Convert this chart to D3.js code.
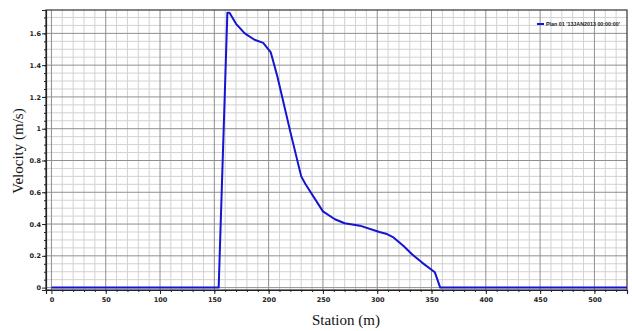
<!DOCTYPE html>
<html>
<head>
<meta charset="utf-8">
<script src="https://cdn.jsdelivr.net/npm/d3@7"></script>
<style>
  body { margin: 0; background: #fff; }
  svg { display: block; }
</style>
</head>
<body>
<script>
// Velocity profile
const station = [0, 154, 162, 164, 170, 178, 187, 195, 202, 208, 220, 230, 234, 250, 261, 270, 284, 302, 309, 315, 324, 332, 341, 353, 358, 530];
const velocity = [0, 0, 1.73, 1.73, 1.66, 1.60, 1.56, 1.54, 1.48, 1.33, 0.98, 0.70, 0.65, 0.48, 0.43, 0.405, 0.39, 0.35, 0.337, 0.316, 0.263, 0.21, 0.159, 0.097, 0, 0];
const xTicks = [0, 50, 100, 150, 200, 250, 300, 350, 400, 450, 500];
const yTicks = [0, 0.2, 0.4, 0.6, 0.8, 1, 1.2, 1.4, 1.6];
const seriesName = "Plan 01 '13JAN2013 00:00:00'";

const width = 632, height = 331;
const margin = { top: 10, right: 5, bottom: 41, left: 46 };

const svg = d3.select("body").append("svg")
  .attr("width", width)
  .attr("height", height);

const x = d3.scaleLinear().domain([-5, 530]).range([margin.left, width - margin.right]);
const y = d3.scaleLinear().domain([-0.015, 1.747]).range([height - margin.bottom, margin.top]);

const plot = svg.append("g");

// minor grid
plot.append("g")
  .selectAll("line")
  .data(d3.range(10, 530, 10).filter(v => v % 50 !== 0))
  .join("line")
  .attr("x1", d => x(d)).attr("x2", d => x(d))
  .attr("y1", y.range()[0]).attr("y2", y.range()[1])
  .attr("stroke", "#d2d2d2").attr("stroke-width", 1);

plot.append("g")
  .selectAll("line")
  .data(d3.range(1, 35).map(i => i * 0.05).filter((v, i) => (i + 1) % 4 !== 0))
  .join("line")
  .attr("x1", x.range()[0]).attr("x2", x.range()[1])
  .attr("y1", d => y(d)).attr("y2", d => y(d))
  .attr("stroke", "#d2d2d2").attr("stroke-width", 1);

// major grid
plot.append("g")
  .selectAll("line")
  .data(xTicks)
  .join("line")
  .attr("x1", d => x(d)).attr("x2", d => x(d))
  .attr("y1", y.range()[0]).attr("y2", y.range()[1])
  .attr("stroke", "#8f8f8f").attr("stroke-width", 1);

plot.append("g")
  .selectAll("line")
  .data(yTicks)
  .join("line")
  .attr("x1", x.range()[0]).attr("x2", x.range()[1])
  .attr("y1", d => y(d)).attr("y2", d => y(d))
  .attr("stroke", "#8f8f8f").attr("stroke-width", 1);

// frame
plot.append("rect")
  .attr("x", margin.left).attr("y", margin.top)
  .attr("width", width - margin.left - margin.right)
  .attr("height", height - margin.top - margin.bottom)
  .attr("fill", "none").attr("stroke", "#333").attr("stroke-width", 1.2);

// axes
const xAxis = svg.append("g")
  .attr("transform", `translate(0,${height - margin.bottom})`)
  .call(d3.axisBottom(x).tickValues(xTicks).tickSize(4).tickFormat(d3.format("d")));
svg.append("g")
  .attr("transform", `translate(0,${height - margin.bottom})`)
  .call(d3.axisBottom(x).tickValues(d3.range(10, 530, 10)).tickSize(2).tickFormat(""))
  .call(g => g.select(".domain").remove());

const yAxis = svg.append("g")
  .attr("transform", `translate(${margin.left},0)`)
  .call(d3.axisLeft(y).tickValues(yTicks).tickSize(4).tickFormat(d => d3.format("~g")(d)));
svg.append("g")
  .attr("transform", `translate(${margin.left},0)`)
  .call(d3.axisLeft(y).tickValues(d3.range(1, 35).map(i => i * 0.05)).tickSize(2).tickFormat(""))
  .call(g => g.select(".domain").remove());

svg.selectAll(".domain").attr("stroke", "#222").attr("stroke-width", 1.2);
svg.selectAll(".tick line").attr("stroke", "#222");
svg.selectAll(".tick text")
  .attr("font-family", "DejaVu Sans, sans-serif")
  .attr("font-size", 6.5)
  .attr("font-weight", "bold")
  .attr("fill", "#222");
xAxis.selectAll(".tick text").attr("dy", "0.9em").attr("y", 6);
yAxis.selectAll(".tick text").attr("x", -5);

// series
const points = station.map((s, i) => [s, velocity[i]]);
svg.append("path")
  .datum(points)
  .attr("fill", "none")
  .attr("stroke", "#1414d2")
  .attr("stroke-width", 2)
  .attr("stroke-linejoin", "round")
  .attr("d", d3.line().x(d => x(d[0])).y(d => y(d[1])));

// legend
const legend = svg.append("g").attr("transform", "translate(537,24)");
legend.append("line")
  .attr("x1", 0).attr("x2", 7).attr("y1", 0).attr("y2", 0)
  .attr("stroke", "#1414d2").attr("stroke-width", 2);
legend.append("text")
  .attr("x", 9).attr("y", 2)
  .attr("font-family", "Liberation Sans Narrow, Liberation Sans, sans-serif")
  .attr("font-size", 5.6)
  .attr("font-weight", "bold")
  .attr("fill", "#222")
  .attr("textLength", 74)
  .attr("lengthAdjust", "spacingAndGlyphs")
  .text(seriesName);

// axis titles
svg.append("text")
  .attr("x", 346).attr("y", 325)
  .attr("text-anchor", "middle")
  .attr("font-family", "Liberation Serif, Times New Roman, serif")
  .attr("font-size", 15)
  .attr("fill", "#111")
  .text("Station (m)");

svg.append("text")
  .attr("transform", "translate(23,151) rotate(-90)")
  .attr("text-anchor", "middle")
  .attr("font-family", "Liberation Serif, Times New Roman, serif")
  .attr("font-size", 15)
  .attr("fill", "#111")
  .text("Velocity (m/s)");
</script>
</body>
</html>
